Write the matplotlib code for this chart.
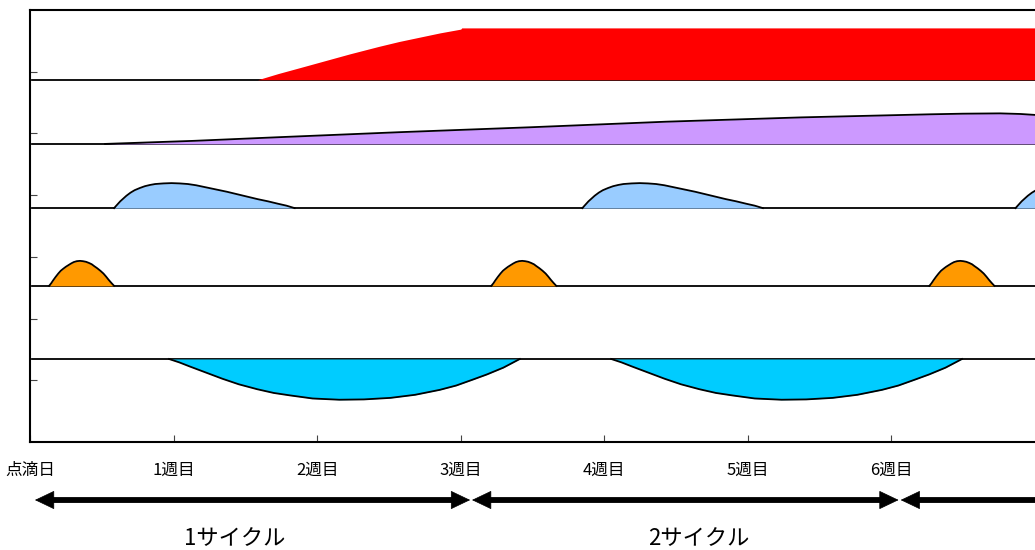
import numpy as np
import matplotlib.pyplot as plt

plt.rcParams['font.family'] = ['Noto Sans CJK JP', 'DejaVu Sans']

# x in days (0 = 点滴日), y in chart units (0..7)
tick_days = [0, 7, 14, 21, 28, 35, 42]
tick_labels = ['点滴日', '1週目', '2週目', '3週目', '4週目', '5週目', '6週目']

# red band
red_base = 5.87
red_x = [11.1, 12.1, 13.2, 14.4, 15.6, 17.0, 18.0, 19.0, 20.0, 21.0, 21.05, 49.0]
red_y = [5.87, 5.97, 6.07, 6.18, 6.29, 6.41, 6.49, 6.56, 6.63, 6.69, 6.71, 6.71]

# purple band
purple_base = 4.83
purple_x = [3.66, 8.0, 12.2, 18.0, 24.4, 31.0, 37.6, 43.9, 45.5, 47.3, 48.3, 49.0]
purple_y = [4.83, 4.88, 4.94, 5.02, 5.10, 5.19, 5.26, 5.31, 5.32, 5.325, 5.315, 5.30]

# light blue humps
blue_base = 3.79
blue_starts = [4.1, 26.93, 48.05]
blue_dx = [0, 0.15, 0.3, 0.45, 0.6, 0.8, 1.0, 1.25, 1.5, 1.75, 2.0, 2.4, 2.8,
           3.2, 3.6, 4.0, 4.5, 5.0, 5.5, 6.0, 6.5, 7.0, 7.5, 8.0, 8.4, 8.8]
blue_h = [0, 0.055, 0.11, 0.155, 0.2, 0.25, 0.29, 0.325, 0.355, 0.375, 0.39, 0.40, 0.405,
          0.40, 0.39, 0.37, 0.335, 0.30, 0.265, 0.225, 0.185, 0.145, 0.11, 0.07, 0.04, 0]

# orange humps
orange_base = 2.53
orange_starts = [0.93, 22.49, 43.85]
orange_dx = [0, 0.1, 0.2, 0.32, 0.45, 0.57, 0.7, 0.82, 0.94, 1.07, 1.2, 1.35, 1.51,
             1.65, 1.8, 1.94, 2.08, 2.2, 2.35, 2.5, 2.65, 2.78, 2.9, 3.03, 3.17]
orange_h = [0, 0.04, 0.09, 0.145, 0.2, 0.245, 0.28, 0.31, 0.335, 0.362, 0.385, 0.4, 0.405,
            0.4, 0.39, 0.372, 0.35, 0.32, 0.285, 0.245, 0.2, 0.15, 0.1, 0.05, 0]

# cyan dips
cyan_base = 1.345
cyan_starts = [6.78, 28.34]
cyan_dx = [0, 0.5, 1.0, 1.8, 2.6, 3.4, 4.3, 5.1, 5.9, 7.0, 8.3, 9.5, 10.8,
           12.0, 13.2, 14.0, 14.8, 15.5, 16.3, 17.1]
cyan_d = [0, 0.055, 0.12, 0.22, 0.32, 0.41, 0.49, 0.55, 0.59, 0.64, 0.66, 0.655, 0.63,
          0.58, 0.50, 0.43, 0.335, 0.25, 0.14, 0]

# cycle arrows
cycle_from = [0.24, 21.55, 42.45]
cycle_to = [21.46, 42.35, 52.0]
cycle_text_x = [10.0, 32.6]
cycle_labels = ['1サイクル', '2サイクル']

fig = plt.figure(figsize=(10.35, 5.5), dpi=100)
ax = fig.add_axes([30/1035, 108/550, 1005/1035, 432/550])
ax.set_xlim(0, 49)
ax.set_ylim(0, 7)

for b in [red_base, purple_base, blue_base, orange_base, cyan_base]:
    ax.plot([0.1, 49], [b, b], color='black', lw=1.3, zorder=2)

ax.fill_between(red_x, red_base, red_y, color='#FF0000', lw=0, zorder=3)

ax.fill_between(purple_x, purple_base, purple_y, color='#CC99FF', lw=0, zorder=3)
ax.plot(purple_x, purple_y, color='black', lw=1.3, zorder=4)

for s in blue_starts:
    xs = np.array(blue_dx) + s
    ys = np.array(blue_h) + blue_base
    ax.fill_between(xs, blue_base, ys, color='#99CCFF', lw=0, zorder=3)
    ax.plot(xs, ys, color='black', lw=1.3, zorder=4)

for s in orange_starts:
    xs = np.array(orange_dx) + s
    ys = np.array(orange_h) + orange_base
    ax.fill_between(xs, orange_base, ys, color='#FF9900', lw=0, zorder=3)
    ax.plot(xs, ys, color='black', lw=1.3, zorder=4)

for s in cyan_starts:
    xs = np.array(cyan_dx) + s
    ys = cyan_base - np.array(cyan_d)
    ax.fill_between(xs, ys, cyan_base, color='#00CCFF', lw=0, zorder=3)
    ax.plot(xs, ys, color='black', lw=1.3, zorder=4)

ax.spines['right'].set_visible(False)
for sp in ['left', 'top', 'bottom']:
    ax.spines[sp].set_linewidth(1.5)

ax.set_xticks(tick_days)
ax.set_xticklabels(tick_labels, fontsize=12)
ax.set_yticks([1, 2, 3, 4, 5, 6])
ax.set_yticklabels([])
ax.tick_params(axis='x', direction='in', length=5, pad=14, color='#444444')
ax.tick_params(axis='y', direction='in', length=5, color='#444444')

# double-headed arrows: thick shaft + sharp filled heads
for a, b in zip(cycle_from, cycle_to):
    ax.annotate('', xy=(b, -0.94), xytext=(a, -0.94), xycoords='data',
                annotation_clip=False,
                arrowprops=dict(arrowstyle='-', lw=4.2, color='black',
                                capstyle='butt', shrinkA=8, shrinkB=8))
    ax.annotate('', xy=(b, -0.94), xytext=(a, -0.94), xycoords='data',
                annotation_clip=False,
                arrowprops=dict(arrowstyle='<|-|>,head_length=1.3,head_width=0.62',
                                mutation_scale=10, lw=0.5, color='black',
                                joinstyle='miter', shrinkA=0, shrinkB=0))

for x, t in zip(cycle_text_x, cycle_labels):
    ax.text(x, -1.56, t, ha='center', va='center', fontsize=16, clip_on=False)

fig.savefig('out.png', dpi=100)
